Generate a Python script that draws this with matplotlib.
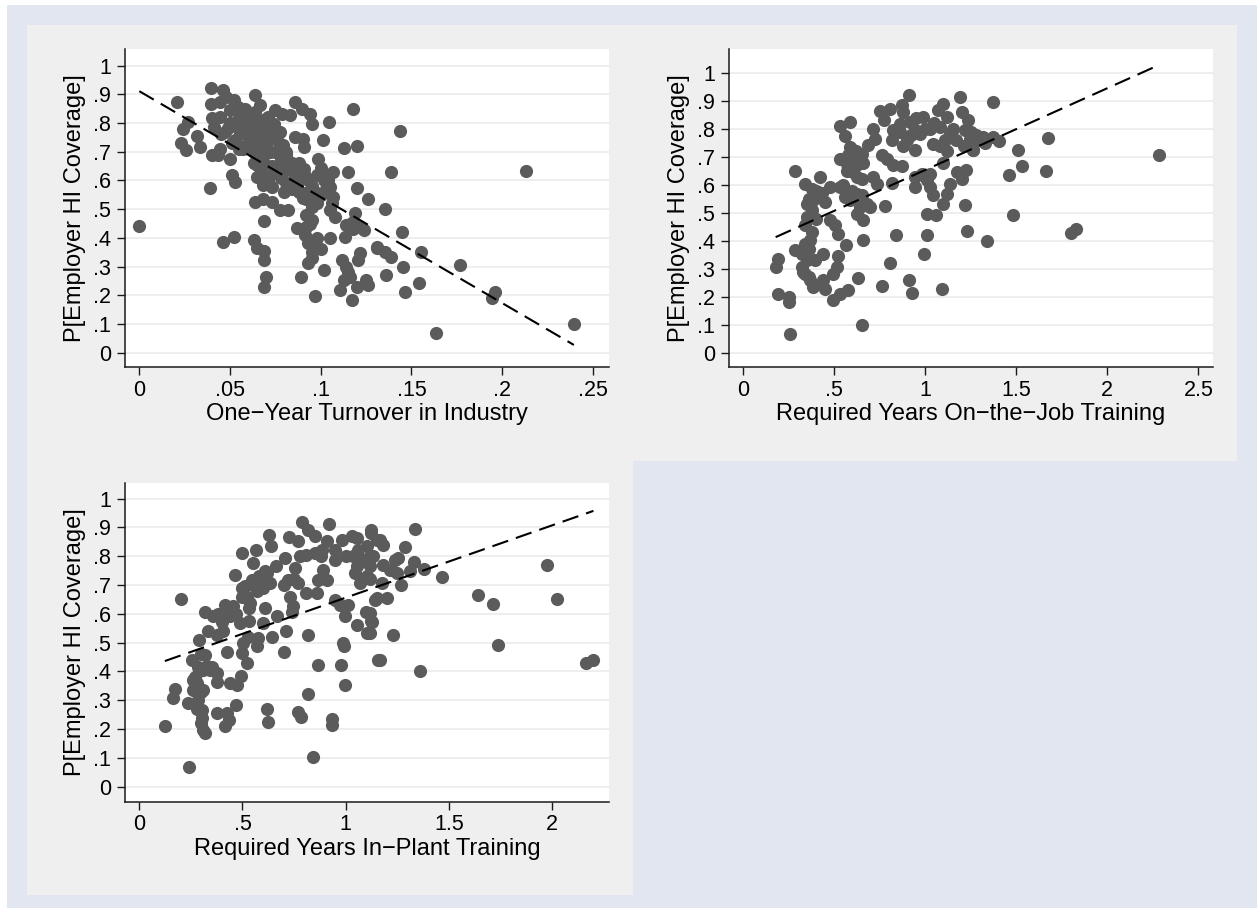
import numpy as np
import matplotlib
matplotlib.use("Agg")
import matplotlib.pyplot as plt
from matplotlib.patches import Rectangle

plt.rcParams['font.family'] = ['Liberation Sans', 'DejaVu Sans']

# ---- data (x, P[Employer HI coverage]) ----
turnover_pts = [
    (0.000, 0.44), (0.021, 0.875), (0.024, 0.78), (0.027, 0.804), (0.023, 0.731), (0.026, 0.705),
    (0.032, 0.755), (0.0334, 0.717), (0.0395, 0.922), (0.0395, 0.868), (0.040, 0.818), (0.040, 0.69),
    (0.0435, 0.688), (0.039, 0.572), (0.046, 0.914), (0.0445, 0.873), (0.048, 0.891), (0.052, 0.879),
    (0.0445, 0.821), (0.041, 0.787), (0.050, 0.845), (0.0546, 0.856), (0.0546, 0.81), (0.049, 0.784),
    (0.045, 0.763), (0.050, 0.676), (0.051, 0.618), (0.0527, 0.595), (0.046, 0.386), (0.052, 0.404),
    (0.0445, 0.711), (0.053, 0.74), (0.0555, 0.763), (0.057, 0.711), (0.059, 0.798), (0.061, 0.74),
    (0.064, 0.897), (0.0665, 0.862), (0.064, 0.839), (0.062, 0.798), (0.0656, 0.781), (0.068, 0.81),
    (0.071, 0.787), (0.075, 0.845), (0.074, 0.798), (0.0775, 0.769), (0.070, 0.752), (0.065, 0.74),
    (0.0665, 0.717), (0.068, 0.688), (0.065, 0.653), (0.065, 0.613), (0.068, 0.584), (0.071, 0.613),
    (0.073, 0.578), (0.064, 0.526), (0.068, 0.537), (0.073, 0.526), (0.0775, 0.497), (0.082, 0.497),
    (0.069, 0.458), (0.063, 0.392), (0.0647, 0.363), (0.069, 0.355), (0.0689, 0.322), (0.070, 0.262),
    (0.069, 0.23), (0.0785, 0.833), (0.083, 0.827), (0.086, 0.874), (0.0895, 0.85), (0.094, 0.833),
    (0.095, 0.798), (0.1046, 0.804), (0.086, 0.752), (0.090, 0.746), (0.091, 0.717), (0.0794, 0.723),
    (0.081, 0.688), (0.083, 0.659), (0.0785, 0.63), (0.080, 0.56), (0.086, 0.647), (0.0886, 0.63),
    (0.091, 0.624), (0.087, 0.589), (0.0895, 0.555), (0.092, 0.537), (0.0987, 0.676), (0.101, 0.74),
    (0.100, 0.642), (0.102, 0.601), (0.105, 0.578), (0.107, 0.543), (0.105, 0.497), (0.108, 0.473),
    (0.095, 0.508), (0.095, 0.462), (0.092, 0.439), (0.0867, 0.433), (0.0914, 0.41), (0.093, 0.381),
    (0.0978, 0.398), (0.095, 0.352), (0.093, 0.311), (0.102, 0.288), (0.105, 0.40), (0.089, 0.265),
    (0.0967, 0.198), (0.1134, 0.404), (0.114, 0.444), (0.118, 0.456), (0.119, 0.485), (0.1216, 0.439),
    (0.124, 0.427), (0.120, 0.572), (0.126, 0.537), (0.115, 0.63), (0.113, 0.713), (0.120, 0.719),
    (0.118, 0.85), (0.1115, 0.322), (0.114, 0.299), (0.116, 0.265), (0.113, 0.253), (0.1106, 0.218),
    (0.117, 0.183), (0.1216, 0.346), (0.1207, 0.322), (0.120, 0.23), (0.125, 0.253), (0.126, 0.235),
    (0.131, 0.363), (0.098, 0.618), (0.107, 0.63),
    (0.1437, 0.771), (0.1387, 0.63), (0.2131, 0.632), (0.1354, 0.50), (0.1446, 0.421), (0.1312, 0.367),
    (0.1354, 0.352), (0.139, 0.332), (0.1553, 0.352), (0.1455, 0.299), (0.136, 0.269), (0.1544, 0.241),
    (0.1465, 0.21), (0.1768, 0.306), (0.1961, 0.21), (0.1946, 0.189), (0.1634, 0.07), (0.2396, 0.10),
    (0.058, 0.78), (0.060, 0.76), (0.062, 0.72), (0.063, 0.70), (0.066, 0.75), (0.067, 0.77),
    (0.069, 0.74), (0.070, 0.72), (0.072, 0.70), (0.072, 0.79), (0.074, 0.76), (0.076, 0.74),
    (0.060, 0.81), (0.056, 0.83), (0.058, 0.85), (0.063, 0.82), (0.069, 0.80), (0.071, 0.82),
    (0.066, 0.68), (0.069, 0.66), (0.073, 0.65), (0.076, 0.63), (0.078, 0.61), (0.081, 0.59),
    (0.084, 0.57), (0.085, 0.60), (0.088, 0.56), (0.090, 0.54), (0.093, 0.56), (0.095, 0.58),
    (0.097, 0.56), (0.096, 0.53), (0.098, 0.52), (0.100, 0.55), (0.103, 0.57), (0.104, 0.60),
    (0.101, 0.62), (0.106, 0.52), (0.082, 0.64), (0.084, 0.66), (0.078, 0.67), (0.075, 0.70),
    (0.081, 0.70), (0.086, 0.62), (0.088, 0.66), (0.091, 0.64), (0.093, 0.60), (0.092, 0.48),
    (0.094, 0.45), (0.097, 0.37), (0.095, 0.33), (0.100, 0.36), (0.053, 0.79), (0.050, 0.80),
    (0.047, 0.77), (0.051, 0.73), (0.055, 0.71), (0.058, 0.72), (0.064, 0.75), (0.063, 0.66),
    (0.067, 0.63), (0.071, 0.60), (0.116, 0.45), (0.118, 0.43), (0.115, 0.28),
]

ojt_pts = [
    (0.256, 0.069), (0.650, 0.099), (0.192, 0.212), (0.253, 0.20), (0.253, 0.182), (0.178, 0.307),
    (0.189, 0.336), (0.2857, 0.65), (0.284, 0.369), (0.32, 0.355), (0.32, 0.307), (0.348, 0.331),
    (0.339, 0.283), (0.366, 0.26), (0.385, 0.236), (0.44, 0.26), (0.449, 0.23), (0.495, 0.19),
    (0.531, 0.212), (0.577, 0.226), (0.628, 0.269), (0.495, 0.283), (0.513, 0.307), (0.522, 0.345),
    (0.562, 0.385), (0.659, 0.402), (0.436, 0.355), (0.394, 0.331), (0.366, 0.402), (0.375, 0.432),
    (0.339, 0.456), (0.348, 0.486), (0.348, 0.533), (0.385, 0.545), (0.339, 0.605), (0.375, 0.587),
    (0.421, 0.629), (0.412, 0.575), (0.449, 0.539), (0.476, 0.593), (0.476, 0.474), (0.504, 0.456),
    (0.522, 0.426), (0.531, 0.593), (0.531, 0.694), (0.577, 0.706), (0.604, 0.724), (0.568, 0.676),
    (0.632, 0.676), (0.586, 0.736), (0.531, 0.81), (0.589, 0.825), (0.558, 0.777), (0.558, 0.557),
    (0.586, 0.545), (0.604, 0.646), (0.623, 0.629), (0.650, 0.623), (0.623, 0.498), (0.659, 0.474),
    (0.678, 0.533), (0.696, 0.521), (0.650, 0.563), (0.623, 0.569), (0.687, 0.742), (0.714, 0.801),
    (0.723, 0.765), (0.76, 0.706), (0.732, 0.605), (0.714, 0.629), (0.778, 0.525), (0.76, 0.24),
    (0.806, 0.321), (0.837, 0.423), (0.815, 0.607), (0.788, 0.694), (0.824, 0.67), (0.87, 0.667),
    (0.751, 0.864), (0.806, 0.873), (0.773, 0.831), (0.824, 0.795), (0.815, 0.76), (0.87, 0.885),
    (0.879, 0.861), (0.91, 0.92), (0.861, 0.819), (0.916, 0.825), (0.897, 0.76), (0.943, 0.795),
    (0.943, 0.724), (0.989, 0.843), (0.97, 0.783), (1.026, 0.801), (1.044, 0.748), (1.071, 0.867),
    (1.099, 0.89), (1.117, 0.843), (1.136, 0.783), (1.19, 0.914), (1.20, 0.861), (1.236, 0.831),
    (1.218, 0.795), (1.264, 0.724), (1.245, 0.765), (1.081, 0.807), (1.108, 0.76), (0.943, 0.593),
    (0.983, 0.64), (1.007, 0.617), (1.026, 0.593), (1.044, 0.563), (1.099, 0.533), (1.117, 0.569),
    (1.136, 0.605), (1.172, 0.646), (1.223, 0.655), (1.007, 0.498), (1.057, 0.492), (1.218, 0.527),
    (1.227, 0.436), (1.007, 0.42), (0.995, 0.352), (0.91, 0.26), (0.929, 0.214), (1.09, 0.23),
    (0.943, 0.629), (1.026, 0.64),
    (1.37, 0.895), (1.282, 0.76), (1.264, 0.724), (1.374, 0.771), (1.405, 0.756), (1.507, 0.726),
    (1.672, 0.769), (2.286, 0.708), (1.529, 0.667), (1.462, 0.635), (1.663, 0.652), (1.484, 0.494),
    (1.339, 0.40), (1.799, 0.43), (1.828, 0.442), (1.319, 0.771),
    (1.15, 0.80), (1.17, 0.76), (1.21, 0.74), (1.25, 0.79), (1.28, 0.78), (1.30, 0.76),
    (1.33, 0.75), (1.00, 0.80), (0.95, 0.84), (0.92, 0.78), (0.88, 0.74), (0.86, 0.79),
    (1.05, 0.82), (1.08, 0.74), (1.12, 0.72), (0.60, 0.70), (0.62, 0.72), (0.58, 0.67),
    (0.63, 0.69), (0.57, 0.65), (0.61, 0.66), (0.65, 0.71), (0.66, 0.68), (0.40, 0.58),
    (0.43, 0.57), (0.36, 0.55), (0.38, 0.51), (0.40, 0.48), (0.34, 0.39), (0.36, 0.37),
    (0.33, 0.29), (0.36, 0.27), (0.55, 0.60), (0.60, 0.58), (0.63, 0.55), (0.64, 0.52),
    (1.10, 0.68), (1.20, 0.62),
]

plant_pts = [
    (0.241, 0.07), (0.124, 0.211), (0.173, 0.338), (0.165, 0.307), (0.20, 0.652), (0.237, 0.29),
    (0.262, 0.371), (0.262, 0.336), (0.286, 0.301), (0.302, 0.267), (0.302, 0.238), (0.310, 0.197),
    (0.318, 0.185), (0.310, 0.336), (0.278, 0.359), (0.254, 0.44), (0.286, 0.417), (0.310, 0.406),
    (0.318, 0.458), (0.291, 0.508), (0.342, 0.406), (0.35, 0.417), (0.375, 0.394), (0.375, 0.365),
    (0.378, 0.255), (0.423, 0.255), (0.415, 0.211), (0.434, 0.232), (0.468, 0.284), (0.439, 0.359),
    (0.472, 0.353), (0.493, 0.385), (0.423, 0.466), (0.334, 0.542), (0.318, 0.608), (0.359, 0.591),
    (0.375, 0.527), (0.407, 0.539), (0.415, 0.632), (0.455, 0.626), (0.439, 0.591), (0.488, 0.568),
    (0.504, 0.498), (0.496, 0.463), (0.52, 0.429), (0.528, 0.521), (0.496, 0.66), (0.512, 0.695),
    (0.536, 0.637), (0.533, 0.574), (0.463, 0.736), (0.496, 0.811), (0.552, 0.776), (0.565, 0.823),
    (0.544, 0.718), (0.577, 0.718), (0.568, 0.678), (0.601, 0.689), (0.609, 0.747), (0.633, 0.707),
    (0.63, 0.875), (0.636, 0.834), (0.568, 0.487), (0.576, 0.516), (0.601, 0.568), (0.609, 0.62),
    (0.641, 0.521), (0.665, 0.591), (0.661, 0.767), (0.62, 0.269), (0.625, 0.224), (0.703, 0.469),
    (0.71, 0.539), (0.706, 0.794), (0.727, 0.866), (0.77, 0.854), (0.754, 0.759), (0.722, 0.718),
    (0.77, 0.707), (0.73, 0.66), (0.746, 0.626), (0.738, 0.608), (0.77, 0.261), (0.782, 0.241),
    (0.819, 0.322), (0.84, 0.102), (0.816, 0.527), (0.79, 0.919), (0.819, 0.892), (0.851, 0.869),
    (0.81, 0.805), (0.851, 0.811), (0.891, 0.753), (0.867, 0.718), (0.908, 0.718), (0.81, 0.672),
    (0.859, 0.672), (0.921, 0.913), (0.908, 0.852), (0.883, 0.823), (0.948, 0.788), (0.948, 0.649),
    (0.972, 0.632), (0.996, 0.591), (1.012, 0.632), (0.988, 0.498), (0.993, 0.487), (0.864, 0.423),
    (0.977, 0.421), (0.996, 0.353), (0.932, 0.234), (0.932, 0.214), (0.982, 0.857), (1.029, 0.869),
    (1.053, 0.863), (1.037, 0.80), (1.053, 0.765), (1.045, 0.742), (1.069, 0.707), (1.101, 0.73),
    (1.085, 0.788), (1.101, 0.834), (1.121, 0.892), (1.15, 0.857), (1.118, 0.765), (1.142, 0.649),
    (1.098, 0.605), (1.121, 0.574), (1.053, 0.56), (1.105, 0.533), (1.158, 0.44),
    (1.336, 0.896), (1.125, 0.88), (1.166, 0.857), (1.182, 0.84), (1.287, 0.831), (1.134, 0.80),
    (1.182, 0.771), (1.239, 0.788), (1.255, 0.794), (1.331, 0.779), (1.311, 0.747), (1.214, 0.753),
    (1.247, 0.742), (1.381, 0.757), (1.468, 0.727), (1.174, 0.707), (1.266, 0.701), (1.12, 0.72),
    (1.15, 0.655), (1.198, 0.654), (1.118, 0.603), (1.126, 0.57), (1.118, 0.533), (1.227, 0.528),
    (1.166, 0.438), (1.36, 0.40), (1.642, 0.666), (1.713, 0.634), (1.739, 0.492), (1.973, 0.771),
    (2.025, 0.652), (2.164, 0.431), (2.20, 0.441),
    (0.52, 0.66), (0.55, 0.70), (0.58, 0.73), (0.50, 0.69), (0.53, 0.62), (0.47, 0.60),
    (0.43, 0.60), (0.40, 0.57), (0.38, 0.60), (0.30, 0.46), (0.29, 0.40), (0.27, 0.38),
    (0.30, 0.33), (0.28, 0.27), (0.30, 0.22), (0.33, 0.42), (0.60, 0.72), (0.62, 0.74),
    (1.00, 0.80), (1.06, 0.82), (1.12, 0.80), (0.95, 0.82), (0.88, 0.80), (0.78, 0.80),
    (0.75, 0.72), (0.70, 0.70),
]

# fitted lines (intercept, slope) as drawn
turnover_fit = (0.911, -3.69)
ojt_fit = (0.362, 0.292)
plant_fit = (0.405, 0.251)

y_ticks = [0, .1, .2, .3, .4, .5, .6, .7, .8, .9, 1]
y_tick_labels = ['0', '.1', '.2', '.3', '.4', '.5', '.6', '.7', '.8', '.9', '1']
turnover_ticks = [0, .05, .1, .15, .2, .25]
turnover_labels = ['0', '.05', '.1', '.15', '.2', '.25']
ojt_ticks = [0, .5, 1, 1.5, 2, 2.5]
ojt_labels = ['0', '.5', '1', '1.5', '2', '2.5']
plant_ticks = [0, .5, 1, 1.5, 2]
plant_labels = ['0', '.5', '1', '1.5', '2']

ylabel = 'P[Employer HI Coverage]'

W, H = 1260, 908
fig = plt.figure(figsize=(W / 100, H / 100), dpi=100, facecolor='white')


def box(l, t, r, b):
    return [l / W, 1 - b / H, (r - l) / W, (b - t) / H]


def rect(l, t, r, b, color):
    fig.add_artist(Rectangle((l / W, 1 - b / H), (r - l) / W, (b - t) / H,
                             transform=fig.transFigure, facecolor=color,
                             edgecolor='none', zorder=-10))


rect(7, 5, 1257, 908, '#e1e6f0')
rect(27, 25, 633, 461, '#efefef')
rect(633, 25, 1237, 461, '#efefef')
rect(27, 461, 633, 895, '#efefef')


def panel(pos, pts, fit, xlim, ylim, xticks, xlabels, xlabel):
    ax = fig.add_axes(box(*pos))
    ax.set_facecolor('white')
    pts = np.array(pts)
    ax.scatter(pts[:, 0], pts[:, 1], s=90, color='#5b5b5b', linewidths=0, zorder=3)
    xs = np.array([pts[:, 0].min(), pts[:, 0].max()])
    ax.plot(xs, fit[0] + fit[1] * xs, color='black', lw=1.5, ls=(0, (8, 3.9)),
            solid_capstyle='butt', dash_capstyle='butt', zorder=4)
    ax.set_xlim(*xlim)
    ax.set_ylim(*ylim)
    ax.set_yticks(y_ticks, y_tick_labels)
    ax.set_xticks(xticks, xlabels)
    for y in y_ticks:
        ax.axhline(y, color='#eaeaea', lw=1.1, zorder=1)
    for s in ['top', 'right']:
        ax.spines[s].set_visible(False)
    for s in ['left', 'bottom']:
        ax.spines[s].set_color('#1a1a1a')
        ax.spines[s].set_linewidth(1.1)
    ax.tick_params(direction='out', length=6, width=1.0, color='#1a1a1a',
                   labelsize=15.5, pad=3)
    ax.tick_params(axis='y', pad=4)
    ax.set_xlabel(xlabel, fontsize=17, labelpad=2)
    ax.set_ylabel(ylabel, fontsize=17, labelpad=5)
    return ax


panel((125, 49.3, 608.7, 367), turnover_pts, turnover_fit, (-0.0079, 0.2588), (-0.05, 1.057),
      turnover_ticks, turnover_labels, 'One\u2212Year Turnover in Industry')
panel((728.7, 49.3, 1212.7, 367), ojt_pts, ojt_fit, (-0.080, 2.579), (-0.05, 1.085),
      ojt_ticks, ojt_labels, 'Required Years On\u2212the\u2212Job Training')
panel((125, 482.7, 608.7, 801.7), plant_pts, plant_fit, (-0.069, 2.274), (-0.052, 1.055),
      plant_ticks, plant_labels, 'Required Years In\u2212Plant Training')

fig.savefig('out.png', dpi=100, facecolor='white')
